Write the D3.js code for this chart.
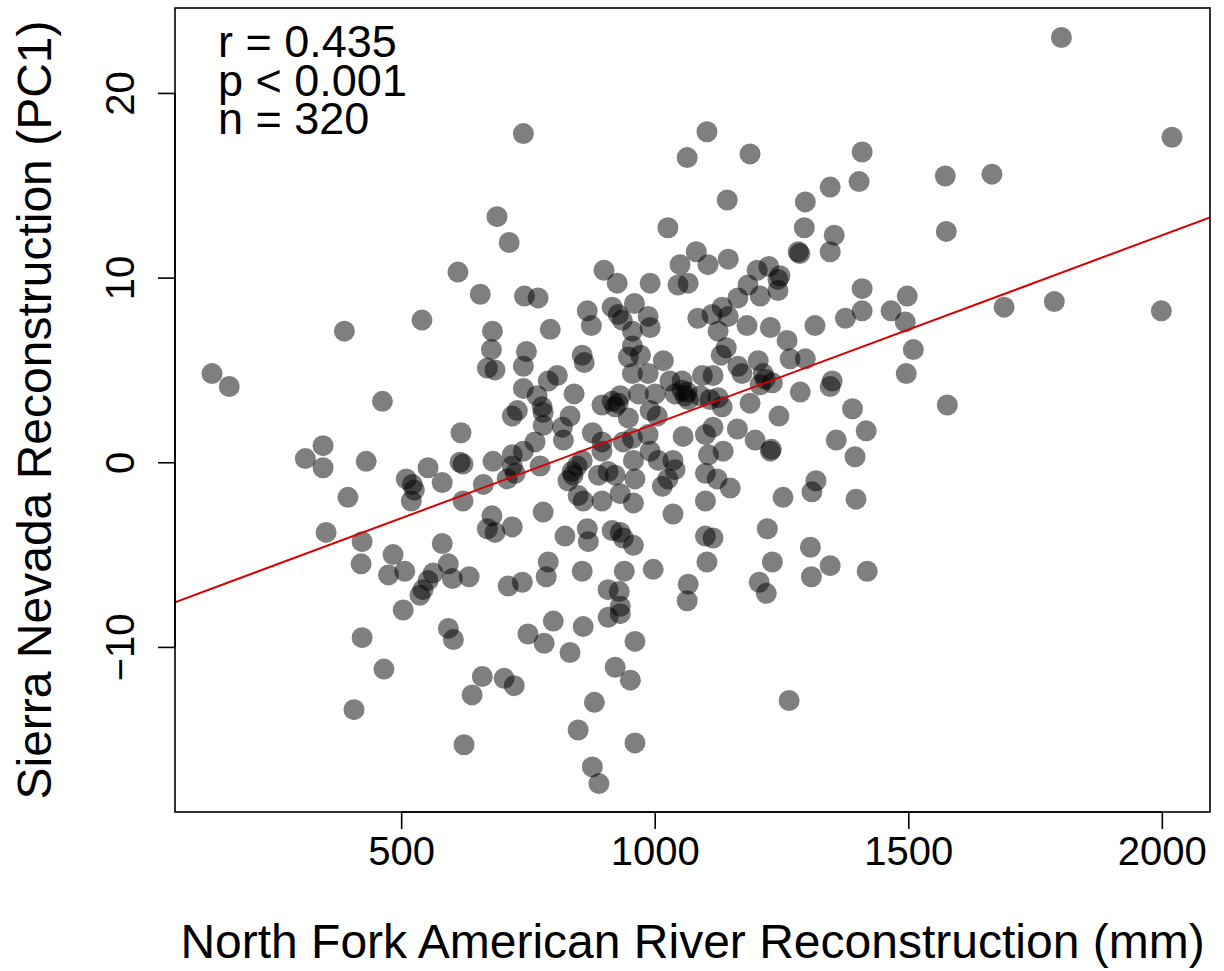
<!DOCTYPE html>
<html><head><meta charset="utf-8">
<script src="https://cdn.jsdelivr.net/npm/d3@7"></script>
<style>
body{margin:0;background:#fff}
svg{display:block}
text{font-family:"Liberation Sans",Arial,Helvetica,sans-serif;fill:#000}
</style>
</head><body>
<svg id="chart" width="1224" height="971"></svg>
<script>
// North Fork American River reconstruction (mm)
const xValues = [
127,161,388,541,463,346,311,346,431,553,510,522,526,520,395,352,423,421,484,475,507,563,553,543,537,504,423,466,407,
593,601,634,711,739,790,786,857,940,997,1066,1064,908,930,932,932,908,593,603,800,750,782,859,833,961,660,640,703,723,922,952,881,849,961,624,877,890,
1103,1232,1307,1206,1220,1309,1346,1419,1265,
612,656,743,770,867,875,916,928,936,960,987,991,926,991,1046,1066,1085,680,678,670,
685,794,747,741,857,861,956,956,948,972,956,987,1017,1030,1054,1064,1066,808,790,741,
768,778,780,841,719,729,780,818,833,896,916,928,932,948,968,991,1005,1001,1040,1054,
618,616,622,581,681,719,741,764,820,877,896,896,938,956,958,987,991,1007,1056,1036,
1040,1026,1015,719,725,709,774,662,622,837,847,857,829,889,908,922,961,849,859,896,
932,958,780,679,670,685,719,581,823,867,869,916,932,938,958,1036,
1184,1208,1243,1243,1164,1133,1113,1145,1182,1228,1125,1141,1131,1261,1267,1297,1316,1376,1409,1409,
1466,1498,1494,1510,1496,1577,1094,1115,1164,1172,1204,1214,1218,1232,1208,1090,1125,1133,1188,1287,
1350,1346,1245,1390,1115,1100,1163,1198,1230,1228,1106,1135,1100,1123,1149,1100,1358,1417,1395,1253,
1310,1318,1397,1222,1100,1115,
1103,1064,1188,1143,1409,1403,1346,1297,1573,1575,1295,1354,1346,1283,1286,1082,1105,1145,1202,1225,1247,
741,689,713,1026,1050,900,
1802,2020,1665,1689,1788,1999,
1060,922,839,1109
];
// Sierra Nevada reconstruction (PC1)
const yValues = [
4.8,4.1,7.1,7.7,3.3,0.9,0.2,-0.3,0.05,-0.3,-0.9,-1.2,-1.5,-2.1,-1.9,-3.8,-4.3,-5.5,-5.0,-6.1,-5.9,-6.0,-6.4,-6.9,-7.2,-8.0,-9.5,-11.2,-13.4,
-5.5,-6.3,-6.2,-6.7,-6.5,-5.4,-6.2,-5.9,-5.9,-5.8,-6.6,-7.5,-6.9,-7.0,-7.8,-8.2,-8.4,-9.0,-9.6,-8.6,-9.3,-9.8,-8.9,-10.3,-9.7,-11.6,-12.6,-11.7,-12.1,-11.1,-11.8,-13.0,-14.5,-15.2,-15.3,-16.5,-17.4,
-5.4,-5.4,-4.6,-6.5,-7.1,-6.2,-5.6,-5.9,-12.9,
10.3,9.1,9.0,8.9,8.2,7.4,8.4,8.0,7.7,8.6,7.9,7.3,9.7,9.7,9.6,9.7,7.8,7.1,6.1,5.1,
5.0,7.2,6.0,5.2,5.8,5.4,7.1,6.3,5.7,5.8,4.8,4.8,5.5,4.4,4.4,3.8,3.4,4.7,4.4,4.0,
3.6,3.0,2.7,3.7,2.5,2.8,2.0,1.9,2.5,3.1,3.3,3.2,3.6,2.4,3.7,2.8,2.5,3.7,3.7,3.9,
1.6,0.0,-0.1,-1.1,0.05,0.4,0.6,1.1,1.2,1.6,1.1,0.6,1.1,1.3,0.1,1.5,0.6,0.1,1.4,0.1,
-0.4,-0.9,-1.3,-0.2,-0.6,-0.9,-0.2,-1.2,-2.1,-0.5,-0.2,0.1,-1.0,-0.7,-0.5,-0.7,-0.9,-1.8,-2.1,-2.1,
-1.7,-2.2,-2.7,-2.9,-3.6,-3.8,-3.5,-4.4,-4.0,-3.6,-4.3,-3.7,-3.8,-4.1,-4.5,-2.8,
9.6,9.0,9.3,9.9,8.9,8.4,8.0,7.9,7.4,7.3,7.1,6.2,5.8,6.6,5.6,5.6,7.4,7.8,8.2,9.4,
8.2,9.0,7.6,6.1,4.8,3.1,4.7,4.7,5.2,4.8,5.5,4.8,4.5,4.3,4.2,3.6,3.5,3.0,3.2,3.8,
4.4,4.1,2.5,2.9,1.9,1.5,1.8,1.2,0.7,0.6,0.4,0.6,-0.6,-0.9,-1.4,-2.1,1.2,1.7,0.3,-1.9,
-1.6,-1.0,-2.0,-3.6,-4.0,-4.1,
17.9,16.5,16.7,14.2,16.8,15.2,14.9,14.1,15.5,12.5,12.7,12.3,11.4,11.4,11.3,11.4,10.7,11.0,10.4,10.6,10.1,
17.8,13.3,11.9,12.7,10.7,10.4,
23.0,17.6,15.6,8.4,8.7,8.2,
3.6,3.0,-0.7,3.4
];
const xTicks = [500, 1000, 1500, 2000];
const yTicks = [-10, 0, 10, 20];
const xDomain = [54, 2095];
const yDomain = [-18.94, 24.6];
const statLines = ["r = 0.435", "p < 0.001", "n = 320"];
const fitCoef = [-8.135, 0.010212]; // intercept, slope
const xTitle = "North Fork American River Reconstruction (mm)";
const yTitle = "Sierra Nevada Reconstruction (PC1)";

const points = xValues.map((v, i) => ({x: v, y: yValues[i]}));

const svg = d3.select("#chart");
const pL = 175, pR = 1210, pT = 8, pB = 812;
const x = d3.scaleLinear().domain(xDomain).range([pL, pR]);
const y = d3.scaleLinear().domain(yDomain).range([pB, pT]);

svg.append("defs").append("clipPath").attr("id", "clip")
  .append("rect").attr("x", pL).attr("y", pT).attr("width", pR - pL).attr("height", pB - pT);

// points
svg.append("g").selectAll("circle").data(points).join("circle")
  .attr("cx", d => x(d.x)).attr("cy", d => y(d.y)).attr("r", 10.5)
  .attr("fill", "#000").attr("fill-opacity", 0.5);

// regression line
svg.append("line").attr("clip-path", "url(#clip)")
  .attr("x1", x(xDomain[0])).attr("y1", y(fitCoef[0] + fitCoef[1] * xDomain[0]))
  .attr("x2", x(xDomain[1])).attr("y2", y(fitCoef[0] + fitCoef[1] * xDomain[1]))
  .attr("stroke", "#d80000").attr("stroke-width", 2);

// box
svg.append("rect").attr("x", pL).attr("y", pT).attr("width", pR - pL).attr("height", pB - pT)
  .attr("fill", "none").attr("stroke", "#000").attr("stroke-width", 1.6);

// x axis
const gx = svg.append("g").attr("transform", `translate(0,${pB})`)
  .call(d3.axisBottom(x).tickValues(xTicks).tickSize(17).tickPadding(8).tickFormat(d3.format("d")));
gx.select(".domain").attr("stroke-width", 1.6).attr("d", `M${x(xTicks[0])},0H${x(xTicks[xTicks.length-1])}`);
gx.selectAll(".tick line").attr("stroke-width", 1.6);
gx.selectAll("text").attr("font-size", 40).attr("font-family", '"Liberation Sans",Arial,sans-serif').attr("fill", "#000");

// y axis
const gy = svg.append("g").attr("transform", `translate(${pL},0)`)
  .call(d3.axisLeft(y).tickValues(yTicks).tickSize(17).tickFormat(d => d < 0 ? "\u2212" + Math.abs(d) : d));
gy.select(".domain").attr("stroke-width", 1.6).attr("d", `M0,${y(yTicks[0])}V${y(yTicks[yTicks.length-1])}`);
gy.selectAll(".tick line").attr("stroke-width", 1.6);
gy.selectAll("text").attr("font-size", 40).attr("font-family", '"Liberation Sans",Arial,sans-serif').attr("fill", "#000")
  .attr("x", null).attr("dy", null).attr("text-anchor", "middle")
  .attr("transform", "translate(-41,0) rotate(-90)");

// titles
svg.append("text").attr("x", (pL + pR) / 2).attr("y", 958).attr("text-anchor", "middle")
  .attr("font-size", 48).text(xTitle);
svg.append("text").attr("transform", `translate(51,${(pT + pB) / 2}) rotate(-90)`).attr("text-anchor", "middle")
  .attr("font-size", 48).text(yTitle);

// stats
svg.append("g").selectAll("text").data(statLines).join("text")
  .attr("x", 218).attr("y", (d, i) => 57 + i * 38.5).attr("font-size", 45).text(d => d);
</script>
</body></html>
